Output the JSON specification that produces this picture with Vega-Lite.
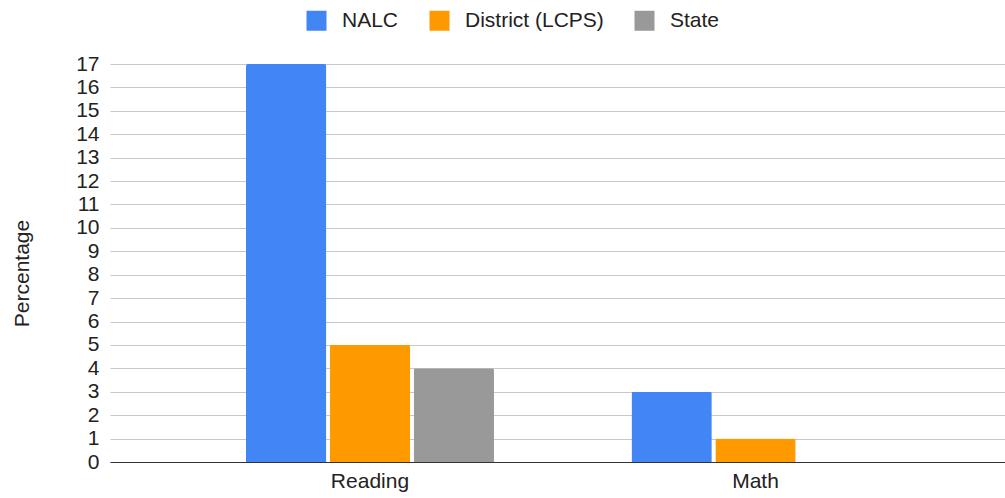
{
  "$schema": "https://vega.github.io/schema/vega-lite/v6.json",
  "autosize": {"type": "none"},
  "width": 895,
  "height": 398,
  "padding": {"left": 110, "top": 64, "right": 0, "bottom": 36},
  "background": "white",
  "data": {
    "values": [
      {"subject": "Reading", "group": "NALC", "value": 17},
      {"subject": "Reading", "group": "District (LCPS)", "value": 5},
      {"subject": "Reading", "group": "State", "value": 4},
      {"subject": "Math", "group": "NALC", "value": 3},
      {"subject": "Math", "group": "District (LCPS)", "value": 1}
    ]
  },
  "mark": {"type": "bar", "cornerRadiusEnd": 2},
  "encoding": {
    "x": {
      "field": "subject",
      "type": "nominal",
      "sort": ["Reading", "Math"],
      "scale": {"paddingInner": 0.3567, "paddingOuter": 0.3392, "align": 0.52},
      "axis": {
        "title": null,
        "labelAngle": 0,
        "ticks": false,
        "grid": false,
        "labelPadding": 8,
        "labelFontSize": 21,
        "labelFont": "Liberation Sans",
        "labelColor": "#222222",
        "domainColor": "#333333",
        "domainWidth": 1
      }
    },
    "xOffset": {
      "field": "group",
      "type": "nominal",
      "sort": ["NALC", "District (LCPS)", "State"],
      "scale": {"paddingInner": 0.042, "paddingOuter": 0}
    },
    "y": {
      "field": "value",
      "type": "quantitative",
      "scale": {"domain": [0, 17], "nice": false},
      "axis": {
        "title": "Percentage",
        "values": [0, 1, 2, 3, 4, 5, 6, 7, 8, 9, 10, 11, 12, 13, 14, 15, 16, 17],
        "domain": false,
        "ticks": false,
        "labelPadding": 11,
        "labelFontSize": 21,
        "labelFont": "Liberation Sans",
        "labelColor": "#222222",
        "gridColor": "#c8c8c8",
        "gridWidth": 1,
        "titleFont": "Liberation Sans",
        "titleFontSize": 21,
        "titleFontWeight": "normal",
        "titleColor": "#222222",
        "titleAngle": -90,
        "titleX": -87.5,
        "titleY": 209,
        "titleAlign": "center",
        "titleBaseline": "middle"
      }
    },
    "color": {
      "field": "group",
      "type": "nominal",
      "scale": {
        "domain": ["NALC", "District (LCPS)", "State"],
        "range": ["#4285F4", "#FF9900", "#999999"]
      },
      "legend": {
        "title": null,
        "orient": "none",
        "direction": "horizontal",
        "legendX": 196,
        "legendY": -54,
        "symbolType": "square",
        "symbolSize": 400,
        "symbolStrokeWidth": 0,
        "symbolOpacity": 1,
        "labelFont": "Liberation Sans",
        "labelFontSize": 21,
        "labelColor": "#222222",
        "labelOffset": 15,
        "columnPadding": 30
      }
    }
  },
  "config": {
    "view": {"stroke": null}
  }
}
